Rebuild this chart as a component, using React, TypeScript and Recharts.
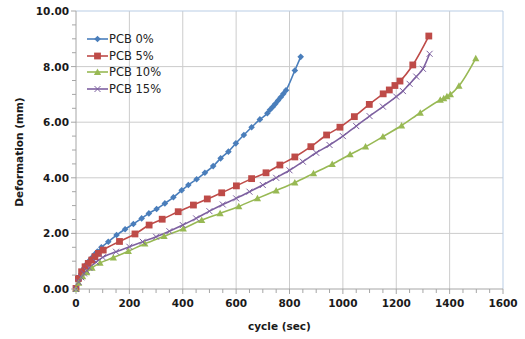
import React from "react";
import { LineChart, Line, XAxis, YAxis, ReferenceLine } from "recharts";

// PCB 0%
const pcb0Cycle = [0, 10, 20, 30, 40, 50, 60, 70, 80, 95, 121, 152, 184, 215, 246, 273, 302, 333, 365, 396, 421, 452, 483, 514, 542, 571, 599, 629, 658, 689, 717, 727, 737, 747, 757, 767, 777, 787, 820, 842];
const pcb0Def = [0, 0.3, 0.55, 0.75, 0.9, 1.02, 1.13, 1.25, 1.35, 1.5, 1.7, 1.94, 2.15, 2.34, 2.54, 2.72, 2.88, 3.08, 3.3, 3.55, 3.74, 3.95, 4.18, 4.42, 4.7, 4.94, 5.24, 5.54, 5.82, 6.1, 6.32, 6.45, 6.55, 6.66, 6.78, 6.9, 7.02, 7.15, 7.86, 8.35];

// PCB 5%
const pcb5Cycle = [0, 9, 21, 34, 46, 59, 71, 84, 102, 163, 221, 274, 323, 383, 440, 492, 546, 601, 658, 712, 764, 820, 880, 939, 989, 1043, 1099, 1151, 1174, 1195, 1214, 1262, 1322];
const pcb5Def = [0.02, 0.38, 0.62, 0.8, 0.92, 1.04, 1.16, 1.28, 1.4, 1.71, 1.98, 2.3, 2.51, 2.78, 3.02, 3.24, 3.46, 3.71, 3.97, 4.18, 4.46, 4.75, 5.12, 5.54, 5.82, 6.2, 6.64, 7.02, 7.16, 7.32, 7.48, 8.06, 9.1];

// PCB 10%
const pcb10Cycle = [0, 10, 25, 40, 60, 90, 140, 196, 258, 330, 402, 471, 540, 610, 680, 750, 820, 890, 960, 1027, 1085, 1150, 1220, 1290, 1365, 1378, 1390, 1403, 1435, 1498];
const pcb10Def = [0, 0.22, 0.45, 0.6, 0.76, 0.94, 1.13, 1.36, 1.63, 1.9, 2.17, 2.48, 2.72, 2.97, 3.26, 3.54, 3.83, 4.16, 4.49, 4.84, 5.12, 5.48, 5.88, 6.34, 6.8, 6.86, 6.93, 7.0, 7.31, 8.3];

// PCB 15%
const pcb15Cycle = [0, 10, 20, 30, 40, 50, 75, 100, 150, 200, 250, 300, 350, 400, 450, 500, 550, 600, 650, 700, 750, 800, 850, 900, 950, 1000, 1050, 1100, 1150, 1200, 1225, 1250, 1275, 1300, 1325];
const pcb15Def = [0, 0.25, 0.42, 0.56, 0.66, 0.76, 0.97, 1.14, 1.34, 1.52, 1.7, 1.88, 2.08, 2.3, 2.54, 2.8, 3.04, 3.26, 3.5, 3.74, 4.0, 4.27, 4.58, 4.9, 5.18, 5.5, 5.86, 6.22, 6.56, 6.92, 7.12, 7.38, 7.64, 7.92, 8.46];

const seriesNames = ["PCB 0%", "PCB 5%", "PCB 10%", "PCB 15%"];
const seriesColors = ["#4A7EBB", "#BE4B48", "#98B954", "#7D60A0"];

const xMajorTicks = [0, 200, 400, 600, 800, 1000, 1200, 1400, 1600];
const yMajorTicks = [0, 2, 4, 6, 8, 10];
const xMinorTicks = Array.from({ length: 33 }, (_, i) => i * 50);
const yMinorTicks = Array.from({ length: 21 }, (_, i) => i * 0.5);

const zip = (xs: number[], ys: number[]) => xs.map((x, i) => ({ x, y: ys[i] }));
const seriesData = [
  zip(pcb0Cycle, pcb0Def),
  zip(pcb5Cycle, pcb5Def),
  zip(pcb10Cycle, pcb10Def),
  zip(pcb15Cycle, pcb15Def),
];

const font = "'DejaVu Sans', Verdana, sans-serif";

function marker(kind: number, cx: number, cy: number, color: string, key?: React.Key) {
  if (kind === 0) {
    const r = 3.3;
    return <path key={key} d={`M${cx},${cy - r}L${cx + r},${cy}L${cx},${cy + r}L${cx - r},${cy}Z`} fill={color} />;
  }
  if (kind === 1) {
    const r = 3.4;
    return <rect key={key} x={cx - r} y={cy - r} width={r * 2} height={r * 2} fill={color} />;
  }
  if (kind === 2) {
    const r = 3.6;
    return <path key={key} d={`M${cx},${cy - r}L${cx + r},${cy + r * 0.8}L${cx - r},${cy + r * 0.8}Z`} fill={color} />;
  }
  const r = 3;
  return (
    <path key={key} d={`M${cx - r},${cy - r}L${cx + r},${cy + r}M${cx + r},${cy - r}L${cx - r},${cy + r}`} stroke={color} strokeWidth={1} fill="none" />
  );
}

const XTick = (props: any) => {
  const { x, y, payload } = props;
  const major = payload.value % 200 === 0;
  return (
    <g>
      <line x1={x} x2={x} y1={y} y2={y + (major ? 5 : 4)} stroke="#A6A6A6" />
      {major && (
        <text x={x} y={y + 14} textAnchor="middle" dominantBaseline="central" fontFamily={font} fontWeight="bold" fontSize={10.5} fill="#1a1a1a">
          {payload.value}
        </text>
      )}
    </g>
  );
};

const YTick = (props: any) => {
  const { x, y, payload } = props;
  const major = Math.abs(payload.value % 2) < 1e-6;
  return (
    <g>
      <line x1={x} x2={x - (major ? 5 : 4)} y1={y} y2={y} stroke="#A6A6A6" />
      {major && (
        <text x={x - 7} y={y} textAnchor="end" dominantBaseline="central" fontFamily={font} fontWeight="bold" fontSize={10.5} fill="#1a1a1a">
          {payload.value.toFixed(2)}
        </text>
      )}
    </g>
  );
};

export default function App() {
  return (
    <div style={{ position: "absolute", left: 0, top: 0, width: 525, height: 339, background: "#fff" }}>
      <LineChart width={525} height={339} margin={{ top: 11, right: 22, bottom: 0, left: 0 }}>
        <XAxis
          dataKey="x"
          type="number"
          domain={[0, 1600]}
          ticks={xMinorTicks}
          interval={0}
          allowDuplicatedCategory={false}
          tick={<XTick />}
          tickLine={false}
          tickSize={0}
          tickMargin={0}
          height={50}
          axisLine={{ stroke: "#A6A6A6" }}
        />
        <YAxis
          dataKey="y"
          type="number"
          domain={[0, 10]}
          ticks={yMinorTicks}
          interval={0}
          tick={<YTick />}
          tickLine={false}
          tickSize={0}
          tickMargin={0}
          width={76}
          axisLine={{ stroke: "#A6A6A6" }}
        />
        {xMajorTicks.slice(1, -1).map((v) => (
          <ReferenceLine key={"gx" + v} x={v} stroke="#CCCCCC" />
        ))}
        {yMajorTicks.slice(1, -1).map((v) => (
          <ReferenceLine key={"gy" + v} y={v} stroke="#CCCCCC" />
        ))}
        <ReferenceLine x={1600} stroke="#B9CDE5" />
        <ReferenceLine y={10} stroke="#B9CDE5" />
        {seriesData.map((d, s) => (
          <Line
            key={seriesNames[s]}
            data={d}
            dataKey="y"
            type="monotone"
            stroke={seriesColors[s]}
            strokeWidth={1.6}
            isAnimationActive={false}
            dot={(p: any) => marker(s, p.cx, p.cy, seriesColors[s], p.index)}
            activeDot={false}
          />
        ))}
      </LineChart>

      {/* legend */}
      <div style={{ position: "absolute", left: 86, top: 31 }}>
        {seriesNames.map((name, s) => (
          <div key={name} style={{ display: "flex", alignItems: "center", height: 16.6 }}>
            <svg width={23} height={12}>
              <line x1={1} x2={22} y1={6} y2={6} stroke={seriesColors[s]} strokeWidth={1.6} />
              {marker(s, 11.5, 6, seriesColors[s])}
            </svg>
            <span style={{ fontFamily: font, fontSize: 11.5, color: "#222", lineHeight: "12px" }}>{name}</span>
          </div>
        ))}
      </div>

      {/* axis titles */}
      <div
        style={{
          position: "absolute",
          left: 248,
          top: 320,
          fontFamily: font,
          fontWeight: "bold",
          fontSize: 10.5,
          color: "#1a1a1a",
          whiteSpace: "nowrap",
        }}
      >
        cycle (sec)
      </div>
      <div
        style={{
          position: "absolute",
          left: 19,
          top: 152,
          transform: "translate(-50%, -50%) rotate(-90deg)",
          fontFamily: font,
          fontWeight: "bold",
          fontSize: 10.5,
          color: "#1a1a1a",
          whiteSpace: "nowrap",
        }}
      >
        Deformation (mm)
      </div>
    </div>
  );
}
